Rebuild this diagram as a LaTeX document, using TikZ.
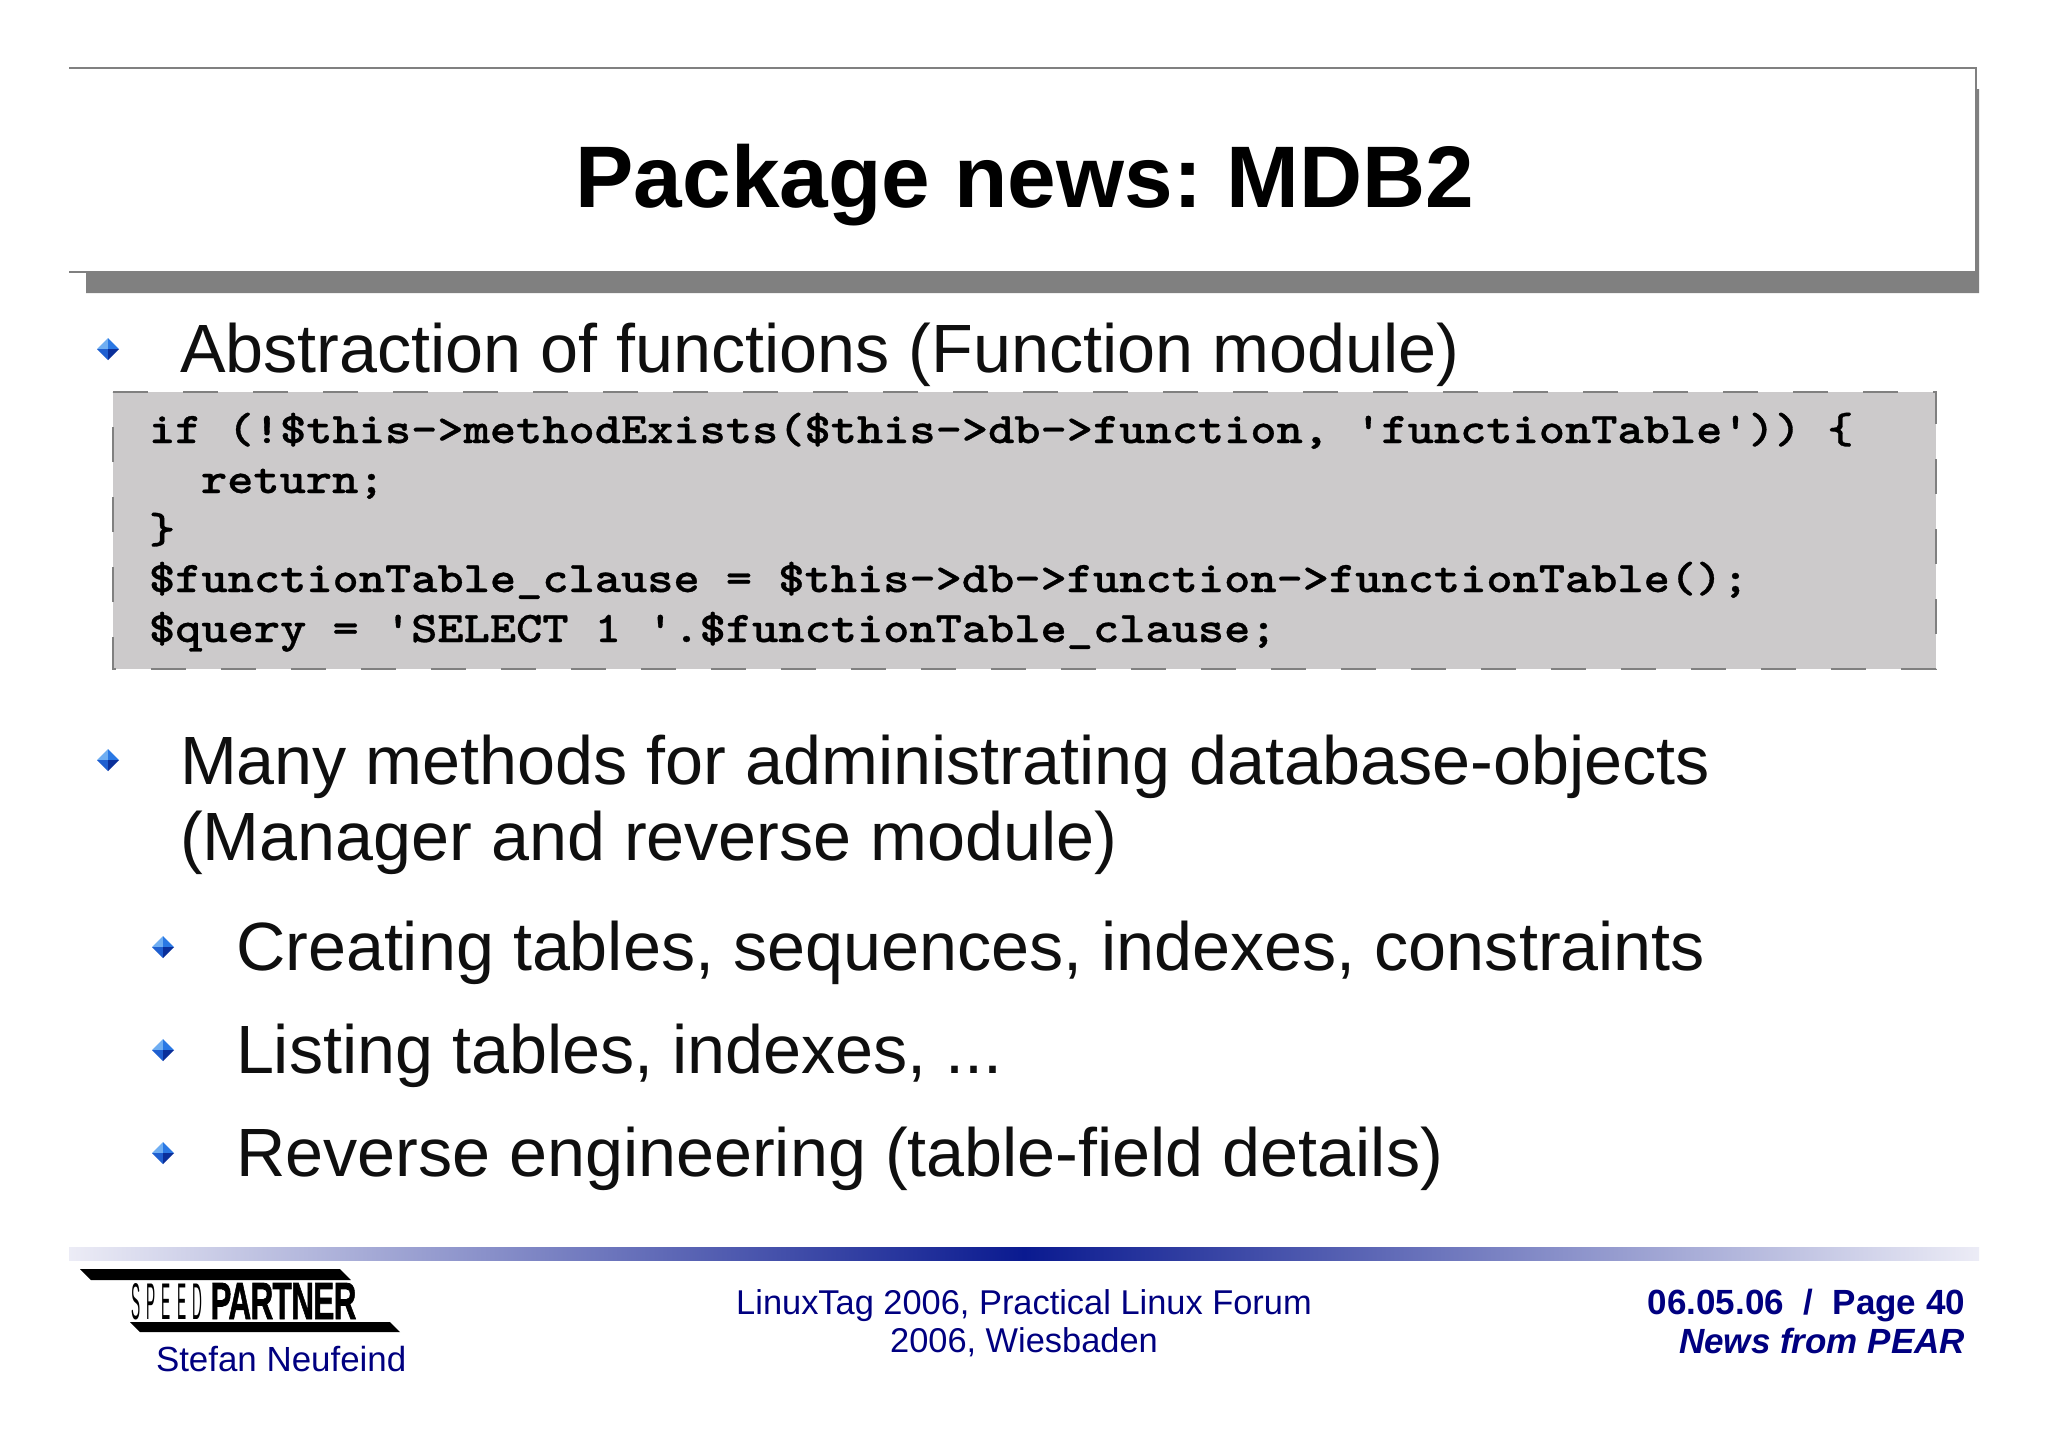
\documentclass[tikz,border=0pt]{standalone}
\usepackage{fontspec}
\setmainfont{Liberation Sans}
\newfontfamily\codefont{Latin Modern Mono Light}[FakeStretch=1.143,FakeBold=0.7]
\newfontfamily\logofont{Liberation Sans}[FakeBold=1.5,LetterSpace=-2]
\AtBeginDocument{\frenchspacing}
\usetikzlibrary{calc}
\definecolor{footnavy}{HTML}{000080}
\definecolor{textblack}{HTML}{0F0F0F}
\definecolor{shadowgray}{HTML}{808080}
\definecolor{codegray}{HTML}{CCCACB}
\definecolor{barpale}{HTML}{ECECF6}
\definecolor{barblue}{HTML}{0A1A90}
\definecolor{gemA}{HTML}{6FAEF2}
\definecolor{gemB}{HTML}{2A78E4}
\definecolor{gemC}{HTML}{1F5FD0}
\definecolor{gemD}{HTML}{0A2F9A}
\newcommand{\bulletmark}[2]{%
  \fill[gemA] (#1-11,#2) -- (#1,#2-11) -- (#1,#2) -- cycle;
  \fill[gemB] (#1,#2-11) -- (#1+11,#2) -- (#1,#2) -- cycle;
  \fill[gemC] (#1-11,#2) -- (#1,#2+11) -- (#1,#2) -- cycle;
  \fill[gemD] (#1+11,#2) -- (#1,#2+11) -- (#1,#2) -- cycle;}
\tikzset{
  x=0.5pt,y=-0.5pt,
  txt/.style={anchor=base west,inner sep=0pt,outer sep=0pt,text=textblack,font=\fontsize{34.15}{34.15}\selectfont},
  code/.style={anchor=base west,inner sep=0pt,outer sep=0pt,text=black,font=\codefont\bfseries\fontsize{21.85}{21.85}\selectfont},
  foot/.style={inner sep=0pt,outer sep=0pt,text=footnavy,font=\fontsize{17.2}{17.2}\selectfont},
  footb/.style={anchor=base east,inner sep=0pt,outer sep=0pt,text=footnavy,font=\bfseries\fontsize{17.5}{17.5}\selectfont},
}
\begin{document}
\begin{tikzpicture}
\useasboundingbox[fill=white] (0,0) rectangle (2048,1447);
% title box
\fill[shadowgray] (86,272) -- (1976,272) -- (1976,89) -- (1979,89) -- (1979,293) -- (86,293) -- cycle;
\draw[gray,line width=0.6pt] (69,68) -- (1976,68) -- (1976,272) -- (69,272);
\node[anchor=base,inner sep=0pt,font=\bfseries\fontsize{43.7}{43.7}\selectfont,text=black] (title) at (1025,207) {Package news: MDB2};
% bullets
\bulletmark{108}{349}
\bulletmark{108}{760}
\bulletmark{163}{947}
\bulletmark{163}{1050}
\bulletmark{163}{1153}
% body
\node[txt] (l1) at (180,372) {Abstraction of functions (Function module)};
\node[txt] (l2) at (180,784) {Many methods for administrating database-objects};
\node[txt] (l3) at (180,860) {(Manager and reverse module)};
\node[txt] (l4) at (236,970) {Creating tables, sequences, indexes, constraints};
\node[txt] (l5) at (236,1073) {Listing tables, indexes, ...};
\node[txt] (l6) at (236,1176) {Reverse engineering (table-field details)};
% code box
\fill[codegray] (113,392) rectangle (1936,669);
\draw[gray,line width=0.6pt,dash pattern=on 17.5pt off 17.5pt] (113,392) -- (1936,392) -- (1936,669) -- (113,669) -- cycle;
\node[code] (c1) at (149,443) {if (!\$this->methodExists(\$this->db->function, 'functionTable')) \{};
\node[code] (c2) at (201,493) {return;};
\node[code] (c3) at (149,543) {\}};
\node[code] (c4) at (149,592) {\$functionTable\_clause = \$this->db->function->functionTable();};
\node[code] (c5) at (149,642) {\$query = 'SELECT 1 '.\$functionTable\_clause;};
% gradient bar
\shade[left color=barpale,right color=barpale,middle color=barblue] (69,1247) rectangle (1979,1260);
% logo
\fill[black] (80,1269) -- (340,1269) -- (351,1280) -- (91,1280) -- cycle;
\fill[black] (130,1322) -- (390,1322) -- (400,1332) -- (140,1332) -- cycle;
\node[anchor=base west,inner sep=0pt] (speed) at (131,1319) {\resizebox{35.5pt}{18pt}{\fontsize{20}{20}\selectfont S\hspace{0.45em}P\hspace{0.45em}E\hspace{0.45em}E\hspace{0.45em}D}};
\node[anchor=base west,inner sep=0pt] (partner) at (210,1319) {\resizebox{73pt}{18pt}{\logofont\bfseries\fontsize{20}{20}\selectfont PARTNER}};
% footer
\node[foot,anchor=base west,font=\fontsize{17.45}{17.45}\selectfont] (name) at (156,1371) {Stefan Neufeind};
\node[foot,anchor=base] (f1) at (1024,1314) {LinuxTag 2006, Practical Linux Forum};
\node[foot,anchor=base] (f2) at (1024,1352) {2006, Wiesbaden};
\node[footb] (r1) at (1965,1314) {06.05.06\ \ /\ \ Page 40};
\node[footb,font=\bfseries\itshape\fontsize{17.5}{17.5}\selectfont] (r2) at (1965,1353) {News from PEAR};
\end{tikzpicture}
\end{document}
